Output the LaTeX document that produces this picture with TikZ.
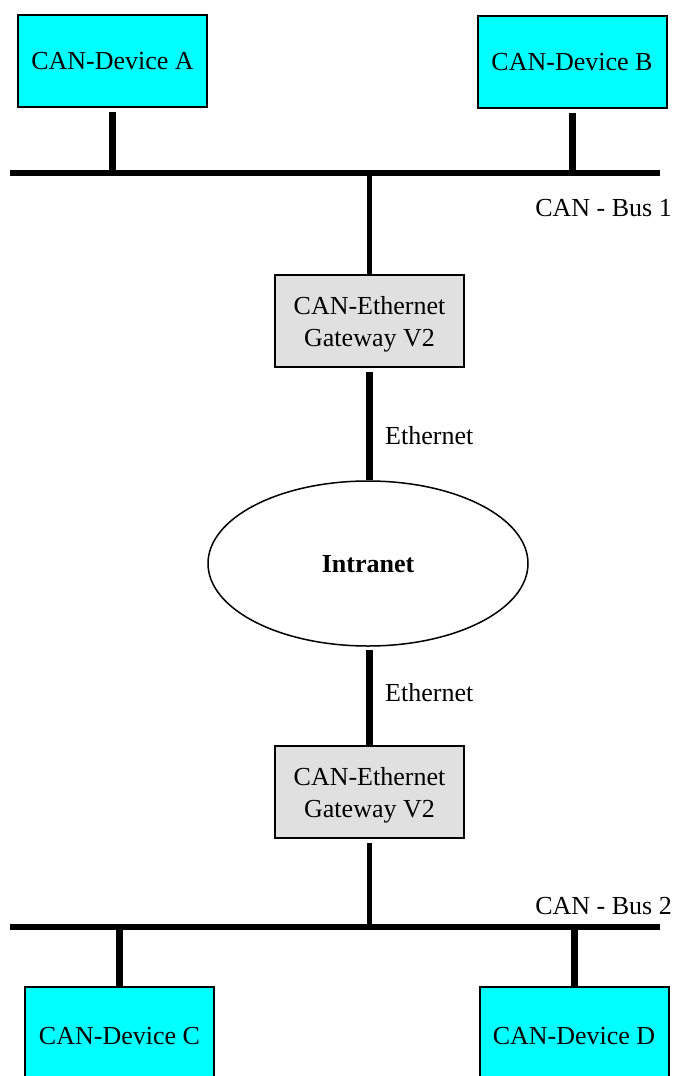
\documentclass[tikz,border=0pt]{standalone}
\usepackage{fontspec}
\setmainfont{Liberation Serif}
\usepackage{tikz}
\usetikzlibrary{shapes.geometric}
\usetikzlibrary{positioning}
\definecolor{mcyan}{rgb}{0, 1, 1}
\definecolor{mgray}{rgb}{0.88, 0.88, 0.88}
\tikzset{device/.style = {draw, line width=2pt, fill=mcyan, inner sep=0pt, text depth=0pt,
                          minimum width=189pt, minimum height=92pt},
         gateway/.style = {device, fill=mgray, align=center},
         bus/.style = {line width=6pt},
         stub/.style = {line width=7pt},
         drop/.style = {line width=5pt},
         lbl/.style = {inner sep=0pt}}

\begin{document}
\begin{tikzpicture}[x=1pt, y=-1pt, font=\fontsize{26}{32}\selectfont]
      \useasboundingbox (0, 0) rectangle (673, 1076);

      \node [device] (devA) at (112.5, 61) {CAN-Device A};
      \node [device] (devB) at (572, 62) {CAN-Device B};
      \node [gateway] (gw1) at (369.5, 321) {CAN-Ethernet\\Gateway V2};
      \node [ellipse, draw, line width=1.5pt, text depth=0pt, minimum width=320pt, minimum height=165pt]
            (net) at (368, 563.5) {\bfseries Intranet};
      \node [gateway] (gw2) at (369.5, 792) {CAN-Ethernet\\Gateway V2};
      \node [device, minimum height=98pt] (devC) at (119.5, 1036) {CAN-Device C};
      \node [device, minimum height=98pt] (devD) at (574, 1036) {CAN-Device D};

      \coordinate (bus1w) at (10, 173);
      \coordinate (bus1e) at (660, 173);
      \coordinate (bus2w) at (10, 927);
      \coordinate (bus2e) at (660, 927);

      \draw [stub, shorten <=4pt] (devA.south) -- (devA.south |- bus1w);
      \draw [stub, shorten <=4pt] (devB.south) -- (devB.south |- bus1w);
      \draw [drop] (gw1.north |- bus1w) -- (gw1.north);
      \draw [bus] (bus1w) -- (bus1e);
      \node [lbl, anchor=east] (bus1lbl) at (672, 208) {CAN - Bus 1};

      \draw [stub, shorten <=4pt] (gw1.south) -- (gw1.south |- net.north);
      \node [lbl, anchor=west] (eth1) at (385, 436) {Ethernet};
      \draw [stub, shorten <=3pt] (gw2.north |- net.south) -- (gw2.north);
      \node [lbl, anchor=west] (eth2) at (385, 693) {Ethernet};

      \draw [drop, shorten <=4pt] (gw2.south) -- (gw2.south |- bus2w);
      \draw [stub] (devC.north |- bus2w) -- (devC.north);
      \draw [stub] (devD.north |- bus2w) -- (devD.north);
      \draw [bus] (bus2w) -- (bus2e);
      \node [lbl, anchor=east] (bus2lbl) at (672, 906) {CAN - Bus 2};

    \end{tikzpicture}
\end{document}
